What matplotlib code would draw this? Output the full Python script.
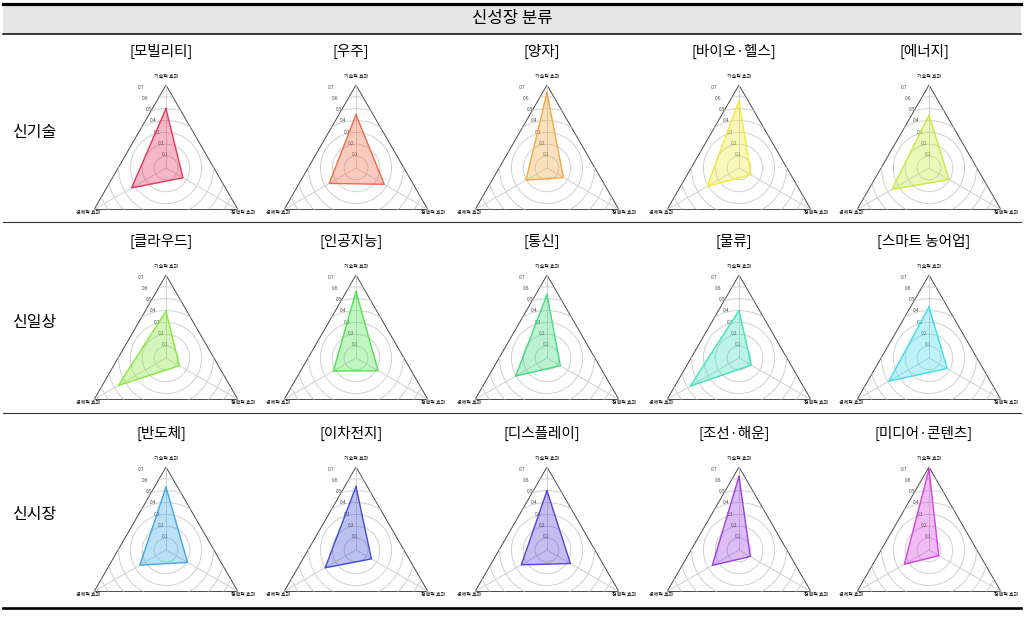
import numpy as np
import matplotlib
matplotlib.use("Agg")
import matplotlib.pyplot as plt
from matplotlib.patches import Polygon, Rectangle

plt.rcParams["font.family"] = ["Noto Sans CJK KR", "DejaVu Sans"]

HEADER = "신성장 분류"
GROUPS = ["신기술", "신일상", "신시장"]
AXIS_NAMES = ["기술적 효과", "경제적 효과", "정책적 효과"]
SECTORS = [
    ["모빌리티", "우주", "양자", "바이오·헬스", "에너지"],
    ["클라우드", "인공지능", "통신", "물류", "스마트 농어업"],
    ["반도체", "이차전지", "디스플레이", "조선·해운", "미디어·콘텐츠"],
]
# effect scores per sector (row = group)
tech = [
    [0.50, 0.45, 0.635, 0.565, 0.445],
    [0.395, 0.56, 0.535, 0.40, 0.43],
    [0.53, 0.535, 0.50, 0.62, 0.68],
]
econ = [
    [0.335, 0.26, 0.205, 0.31, 0.36],
    [0.465, 0.22, 0.305, 0.475, 0.39],
    [0.255, 0.30, 0.25, 0.26, 0.24],
]
policy = [
    [0.165, 0.275, 0.16, 0.115, 0.195],
    [0.13, 0.215, 0.13, 0.12, 0.177],
    [0.21, 0.15, 0.228, 0.11, 0.095],
]
RTICKS = [0.1, 0.2, 0.3, 0.4, 0.5, 0.6, 0.7]

COLORS = [
    ["#e8365d", "#ee6a4a", "#f5a742", "#f2ea3a", "#c5ec3a"],
    ["#86e83a", "#4ee34e", "#3fdc7f", "#3fe3bd", "#3fdcec"],
    ["#3fa7e6", "#3f4fd6", "#5a3fd6", "#9a3fe0", "#d63fe0"],
]

W, H = 1024, 624
COL_X = [166, 356, 547, 739, 929]
ROW_Y = [168, 358, 550]
RADIUS = 83

fig = plt.figure(figsize=(W / 100, H / 100), dpi=100)

# background layer in pixel coordinates: table lines, header, row labels
bg = fig.add_axes([0, 0, 1, 1], zorder=-1)
bg.set_xlim(0, W)
bg.set_ylim(H, 0)
bg.axis("off")
bg.add_patch(Rectangle((3, 5), 1018, 28, facecolor="#e6e6e6", edgecolor="none"))
bg.plot([3, 1021], [3.5, 3.5], color="black", lw=2.3)
bg.plot([3, 1021], [33.5, 33.5], color="black", lw=1.1)
bg.plot([3, 1021], [222, 222], color="#333333", lw=0.8)
bg.plot([3, 1021], [413, 413], color="#333333", lw=0.8)
bg.plot([3, 1021], [607.5, 607.5], color="black", lw=1.9)
bg.text(512, 19, HEADER, ha="center", va="center", fontsize=12)
for i, g in enumerate(GROUPS):
    bg.text(34, ROW_Y[i] - 36, g, ha="center", va="center", fontsize=11.5)

theta = np.deg2rad([0, 120, 240])
tri_verts = [(0.5 + 0.5 * np.cos(np.deg2rad(a)), 0.5 + 0.5 * np.sin(np.deg2rad(a)))
             for a in (90, 210, 330)]

for i in range(3):
    for j in range(5):
        cx, cy = COL_X[j], ROW_Y[i]
        ax = fig.add_axes([(cx - RADIUS) / W, 1 - (cy + RADIUS) / H,
                           2 * RADIUS / W, 2 * RADIUS / H], projection="polar")
        ax.set_theta_offset(np.pi / 2)
        ax.set_ylim(0, 0.7)
        ax.set_rgrids(RTICKS, labels=[f"{t:.1f}" for t in RTICKS],
                      angle=20, fontsize=3.4, color="#444444")
        ax.set_thetagrids(np.rad2deg(theta), [""] * 3)
        ax.spines["polar"].set_visible(False)
        ax.patch.set_visible(False)

        # axis names next to the triangle corners
        ax.text(theta[0], 0.77, AXIS_NAMES[0], ha="center", va="center",
                fontsize=3.6, clip_on=False)
        ax.text(theta[1], 0.755, AXIS_NAMES[1], ha="center", va="center",
                fontsize=3.6, clip_on=False)
        ax.text(theta[2], 0.755, AXIS_NAMES[2], ha="center", va="center",
                fontsize=3.6, clip_on=False)

        tri = Polygon(tri_verts, closed=True, transform=ax.transAxes,
                      fill=False, edgecolor="#4a4a4a", lw=0.7, clip_on=False)
        ax.add_patch(tri)
        for gl in ax.yaxis.get_gridlines():
            gl.set_clip_path(tri)
            gl.set_color("#d0d0d0")
            gl.set_linewidth(0.7)
        for gl in ax.xaxis.get_gridlines():
            gl.set_color("#d0d0d0")
            gl.set_linewidth(0.7)

        vals = [tech[i][j], econ[i][j], policy[i][j]]
        col = COLORS[i][j]
        ax.fill(theta, vals, facecolor=col, alpha=0.35, zorder=3)
        ax.plot(np.append(theta, theta[0]), vals + vals[:1], color=col, lw=1.0, zorder=4)

        bg.text(cx - 5, cy - 117, f"[{SECTORS[i][j]}]", ha="center", va="center",
                fontsize=10.5)

fig.savefig("out.png", dpi=100)
